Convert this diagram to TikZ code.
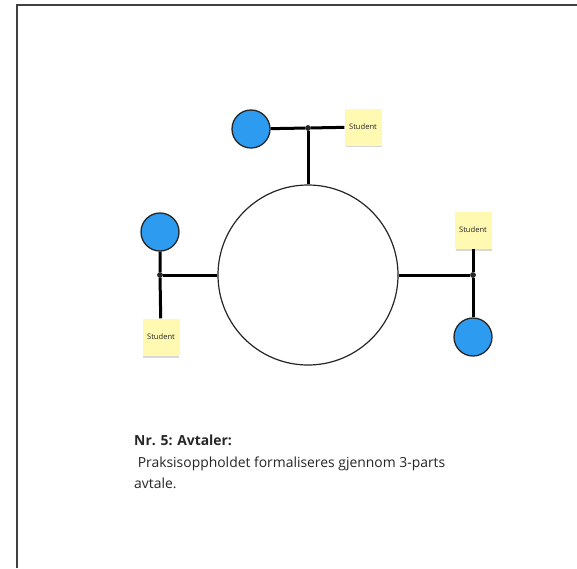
\documentclass[tikz,border=0pt]{standalone}
\usepackage{fontspec}
\setmainfont{Open Sans}
\begin{document}
\begin{tikzpicture}[x=1pt,y=-1pt,
  conn/.style={line width=3pt,black},
  bigc/.style={circle,draw=black!85,line width=1.2pt,fill=white,minimum size=180pt,inner sep=0pt},
  bluec/.style={circle,draw=black!85,line width=1.3pt,fill=bluefill,minimum size=38pt,inner sep=0pt},
  sticky/.style={rectangle,fill=stickyfill,minimum width=37pt,minimum height=37pt,inner sep=0pt,font=\fontsize{7.6}{9}\selectfont,text=black!85},
  jdot/.style={circle,fill=black!85,minimum size=5.5pt,inner sep=0pt}]
\definecolor{bluefill}{HTML}{2D9BF0}
\definecolor{stickyfill}{HTML}{FFF9B1}
\useasboundingbox (0,0) rectangle (577,568);
\fill[white] (0,0) rectangle (577,568);
% frame (top and left edges)
\draw[line width=1.8pt,black!75] (17,568) -- (17,5) -- (577,5);
% central circle
\node[bigc] (C) at (308,275) {};
% top group
\node[bluec] (B1) at (251,129) {};
\node[jdot] (J1) at (308,128) {};
\fill[black!25,opacity=0.6] (346,143) rectangle (382,147);
\node[sticky] (S1) at (363,127) {Student};
\draw[conn] (B1) -- (J1) -- (S1);
\draw[conn] (J1) -- (C);
% left group
\node[bluec] (B2) at (160,232) {};
\node[jdot] (J2) at (160,275) {};
\fill[black!25,opacity=0.6] (143,354) rectangle (179,358);
\node[sticky] (S2) at (161,337) {Student};
\draw[conn] (B2) -- (J2) -- (S2);
\draw[conn] (J2) -- (C);
% right group
\fill[black!25,opacity=0.6] (456,247) rectangle (492,251);
\node[sticky] (S3) at (473,230) {Student};
\node[jdot] (J3) at (473,275) {};
\node[bluec] (B3) at (473,337) {};
\draw[conn] (S3) -- (J3) -- (B3);
\draw[conn] (C) -- (J3);
\node[jdot] at (J1) {};
\node[jdot] at (J2) {};
\node[jdot] at (J3) {};
% caption
\node[anchor=north west,align=left,inner sep=0pt,font=\fontsize{13.9}{21.5}\selectfont,text=black!85] (T) at (134,435)
  {\textbf{Nr. 5: Avtaler:}\\ \ Praksisoppholdet formaliseres gjennom 3-parts\\avtale.};
\end{tikzpicture}
\end{document}
